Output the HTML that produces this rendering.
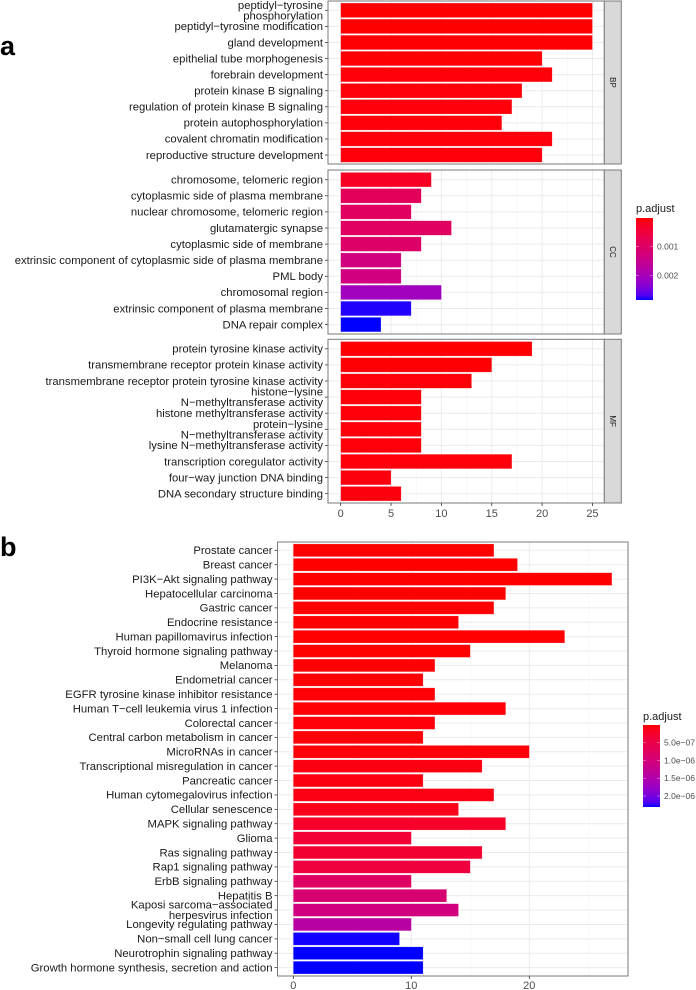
<!DOCTYPE html>
<html><head><meta charset="utf-8"><style>
html,body{margin:0;padding:0;background:#fff;}
svg{display:block;font-family:"Liberation Sans",Arial,sans-serif;}
</style></head><body>
<svg id="fig" width="696" height="990" viewBox="0 0 696 990" xmlns="http://www.w3.org/2000/svg">
<text x="0" y="55" font-size="27" font-weight="bold">a</text>
<text x="0" y="556" font-size="27" font-weight="bold">b</text>
</svg>
<script>
// ---- Panel a data ----
const bpTerms = ["peptidyl\u2212tyrosine\nphosphorylation","peptidyl\u2212tyrosine modification","gland development","epithelial tube morphogenesis","forebrain development","protein kinase B signaling","regulation of protein kinase B signaling","protein autophosphorylation","covalent chromatin modification","reproductive structure development"];
const bpCounts = [25,25,25,20,21,18,17,16,21,20];
const bpPadj = [0.00001,0.00001,0.00002,0.00002,0.00003,0.00003,0.00004,0.00004,0.00005,0.00005];
const ccTerms = ["chromosome, telomeric region","cytoplasmic side of plasma membrane","nuclear chromosome, telomeric region","glutamatergic synapse","cytoplasmic side of membrane","extrinsic component of cytoplasmic side of plasma membrane","PML body","chromosomal region","extrinsic component of plasma membrane","DNA repair complex"];
const ccCounts = [9,8,7,11,8,6,6,10,7,4];
const ccPadj = [0.00023,0.00086,0.0009,0.00095,0.001,0.0013,0.0013,0.00206,0.00283,0.00286];
const mfTerms = ["protein tyrosine kinase activity","transmembrane receptor protein kinase activity","transmembrane receptor protein tyrosine kinase activity","histone\u2212lysine\nN\u2212methyltransferase activity","histone methyltransferase activity","protein\u2212lysine\nN\u2212methyltransferase activity","lysine N\u2212methyltransferase activity","transcription coregulator activity","four\u2212way junction DNA binding","DNA secondary structure binding"];
const mfCounts = [19,15,13,8,8,8,8,17,5,6];
const mfPadj = [0.00001,0.00002,0.00003,0.00004,0.00004,0.00004,0.00004,0.00005,0.00006,0.00006];
const aXTicks = [0,5,10,15,20,25];
const aLegendTicks = [0.001,0.002];
const aLegendLabels = ["0.001","0.002"];
// ---- Panel b data ----
const keggTerms = ["Prostate cancer","Breast cancer","PI3K\u2212Akt signaling pathway","Hepatocellular carcinoma","Gastric cancer","Endocrine resistance","Human papillomavirus infection","Thyroid hormone signaling pathway","Melanoma","Endometrial cancer","EGFR tyrosine kinase inhibitor resistance","Human T\u2212cell leukemia virus 1 infection","Colorectal cancer","Central carbon metabolism in cancer","MicroRNAs in cancer","Transcriptional misregulation in cancer","Pancreatic cancer","Human cytomegalovirus infection","Cellular senescence","MAPK signaling pathway","Glioma","Ras signaling pathway","Rap1 signaling pathway","ErbB signaling pathway","Hepatitis B","Kaposi sarcoma\u2212associated\nherpesvirus infection","Longevity regulating pathway","Non\u2212small cell lung cancer","Neurotrophin signaling pathway","Growth hormone synthesis, secretion and action"];
const keggCounts = [17,19,27,18,17,14,23,15,12,11,12,18,12,11,20,16,11,17,14,18,10,16,15,10,13,14,10,9,11,11];
const keggPadj = [1e-10,2e-9,3e-9,4e-9,6e-9,8e-9,1e-8,1.2e-8,1.5e-8,1.8e-8,2e-8,2.2e-8,2.5e-8,3e-8,3.5e-8,6e-8,7e-8,8e-8,1.2e-7,2.4e-7,3.3e-7,2.8e-7,4.2e-7,7.6e-7,9.2e-7,1.05e-6,1.4e-6,2.3e-6,2.31e-6,2.31e-6];
const bXTicks = [0,10,20];
const bLegendTicks = [5e-7,1e-6,1.5e-6,2e-6];
const bLegendLabels = ["5.0e\u221207","1.0e\u221206","1.5e\u221206","2.0e\u221206"];

const NS = "http://www.w3.org/2000/svg";
const svg = document.getElementById('fig');
function mk(tag, attrs, parent){const e=document.createElementNS(NS,tag);for(const k in attrs)e.setAttribute(k,attrs[k]);(parent||svg).appendChild(e);return e;}

function s2l(c){c/=255;return c<=0.04045?c/12.92:Math.pow((c+0.055)/1.055,2.4);}
function l2s(c){c=c<=0.0031308?12.92*c:1.055*Math.pow(c,1/2.4)-0.055;return Math.max(0,Math.min(255,Math.round(c*255)));}
function toLab(r,g,b){r=s2l(r);g=s2l(g);b=s2l(b);
 let x=(0.4124*r+0.3576*g+0.1805*b)/0.95047,y=0.2126*r+0.7152*g+0.0722*b,z=(0.0193*r+0.1192*g+0.9505*b)/1.08883;
 const f=t=>t>0.008856?Math.cbrt(t):7.787*t+16/116;x=f(x);y=f(y);z=f(z);return [116*y-16,500*(x-y),200*(y-z)];}
function fromLab(L,a,bb){let y=(L+16)/116,x=a/500+y,z=y-bb/200;const fi=t=>t*t*t>0.008856?t*t*t:(t-16/116)/7.787;
 x=fi(x)*0.95047;y=fi(y);z=fi(z)*1.08883;
 const r=3.2406*x-1.5372*y-0.4986*z,g=-0.9689*x+1.8758*y+0.0415*z,b=0.0557*x-0.2040*y+1.0570*z;
 return `rgb(${l2s(r)},${l2s(g)},${l2s(b)})`;}
const LR=toLab(255,0,0),LB=toLab(0,0,255);
function colorAt(t){t=Math.max(0,Math.min(1,t));return fromLab(LR[0]+(LB[0]-LR[0])*t,LR[1]+(LB[1]-LR[1])*t,LR[2]+(LB[2]-LR[2])*t);}

function drawFacet(o){
 const g=mk('g',{});
 
 
 mk('rect',{x:o.left,y:o.top,width:o.right-o.left,height:o.bottom-o.top,fill:'#fff'},g);
 o.minor.forEach(v=>{mk('line',{x1:o.xScale(v),x2:o.xScale(v),y1:o.top,y2:o.bottom,stroke:'#f3f3f3','stroke-width':0.6},g);});
 o.terms.forEach((t,i)=>{const y=o.firstY+i*o.pitch;mk('line',{x1:o.left,x2:o.right,y1:y,y2:y,stroke:'#ebebeb','stroke-width':1},g);});
 o.ticks.forEach(v=>{mk('line',{x1:o.xScale(v),x2:o.xScale(v),y1:o.top,y2:o.bottom,stroke:'#ebebeb','stroke-width':1},g);});
 o.terms.forEach((t,i)=>{
  const y=o.firstY+i*o.pitch;
  const bar=mk('rect',{x:o.xScale(0),y:y-o.barH/2,width:o.xScale(o.counts[i])-o.xScale(0),height:o.barH,fill:colorAt((o.padj[i]-o.pmin)/(o.pmax-o.pmin)),stroke:'rgba(255,255,255,0.35)','stroke-width':0.5},g);
  
  
  mk('line',{x1:o.left-3,x2:o.left,y1:y,y2:y,stroke:'#333','stroke-width':0.8},g);
  const lines=t.split('\n');const lh=10.6;
  const tx=mk('text',{x:o.left-5,y:y+3.8-(lines.length-1)*lh/2,'text-anchor':'end','font-size':11.3,fill:'#1a1a1a'},g);
  
  
  lines.forEach((l,j)=>{const ts=mk('tspan',{x:o.left-5,dy:j?lh:0},tx);ts.textContent=l;});
 });
 mk('rect',{x:o.left,y:o.top,width:o.right-o.left,height:o.bottom-o.top,fill:'none',stroke:'#7a7a7a','stroke-width':1},g);
 if(o.strip){
  const sr=mk('rect',{x:o.right,y:o.top,width:17,height:o.bottom-o.top,fill:'#d9d9d9',stroke:'#7a7a7a','stroke-width':1},g);
  
  
  const cy=(o.top+o.bottom)/2,cx=o.right+8.5;
  const st=mk('text',{x:cx,y:cy,'text-anchor':'middle','font-size':8,fill:'#1a1a1a',transform:`rotate(90 ${cx} ${cy})`,dy:3},g);
  
  
  st.textContent=o.strip;
 }
}
function drawXAxis(ticks,xScale,yAxis,yLabel,name){
 ticks.forEach(v=>{
  mk('line',{x1:xScale(v),x2:xScale(v),y1:yAxis,y2:yAxis+3,stroke:'#333','stroke-width':0.8});
  const t=mk('text',{x:xScale(v),y:yLabel,'text-anchor':'middle','font-size':11,fill:'#4d4d4d'});
  
  
  t.textContent=v;
 });
}
function drawLegend(x,top,bottom,pmin,pmax,ticks,labels,titleY,name){
 const id='grad'+name;
 const defs=mk('defs',{});
 const lg=mk('linearGradient',{id:id,x1:0,y1:0,x2:0,y2:1},defs);
 for(let i=0;i<=20;i++){mk('stop',{offset:i/20,'stop-color':colorAt(i/20)},lg);}
 const tt=mk('text',{x:x,y:titleY,'font-size':11,fill:'#1a1a1a'});
 
 
 tt.textContent='p.adjust';
 const r=mk('rect',{x:x,y:top,width:17,height:bottom-top,fill:`url(#${id})`});
 
 
 ticks.forEach((v,i)=>{
  const y=top+(v-pmin)/(pmax-pmin)*(bottom-top);
  mk('line',{x1:x,x2:x+3,y1:y,y2:y,stroke:'#fff','stroke-width':0.6,opacity:0.6});
  mk('line',{x1:x+14,x2:x+17,y1:y,y2:y,stroke:'#fff','stroke-width':0.6,opacity:0.6});
  const t=mk('text',{x:x+21,y:y+3,'font-size':8.5,fill:'#4d4d4d'});
  
  
  t.textContent=labels[i];
 });
}

const aX=v=>340.7+v*10.07;
const aMinor=[2.5,7.5,12.5,17.5,22.5];
const aPmin=0, aPmax=0.00286;
drawFacet({name:'facet-bp',terms:bpTerms,counts:bpCounts,padj:bpPadj,top:1,bottom:164,left:328,right:604.3,xScale:aX,firstY:10.3,pitch:16.08,barH:14.5,pmin:aPmin,pmax:aPmax,ticks:aXTicks,minor:aMinor,strip:'BP'});
drawFacet({name:'facet-cc',terms:ccTerms,counts:ccCounts,padj:ccPadj,top:170,bottom:334,left:328,right:604.3,xScale:aX,firstY:179.7,pitch:16.1,barH:14.5,pmin:aPmin,pmax:aPmax,ticks:aXTicks,minor:aMinor,strip:'CC'});
drawFacet({name:'facet-mf',terms:mfTerms,counts:mfCounts,padj:mfPadj,top:339.3,bottom:503,left:328,right:604.3,xScale:aX,firstY:348.8,pitch:16.1,barH:14.5,pmin:aPmin,pmax:aPmax,ticks:aXTicks,minor:aMinor,strip:'MF'});
drawXAxis(aXTicks,aX,503,517,'x-tick-label-a');
drawLegend(636,218,300,aPmin,aPmax,aLegendTicks,aLegendLabels,212,'a');

const bX=v=>293.3+v*11.8;
const bPmin=0, bPmax=2.31e-6;
drawFacet({name:'plot-kegg',terms:keggTerms,counts:keggCounts,padj:keggPadj,top:542,bottom:976,left:277.5,right:628,xScale:bX,firstY:550.3,pitch:14.39,barH:12.7,pmin:bPmin,pmax:bPmax,ticks:bXTicks,minor:[5,15,25],strip:null});
drawXAxis(bXTicks,bX,976,989,'x-tick-label-b');
drawLegend(643,725,807,bPmin,bPmax,bLegendTicks,bLegendLabels,720,'b');
</script>
</body></html>
